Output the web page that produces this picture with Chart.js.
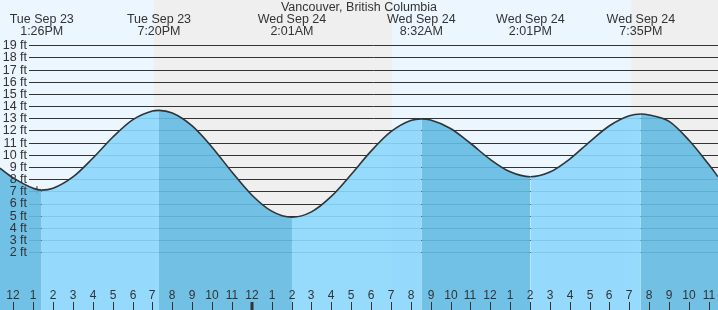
<!DOCTYPE html>
<html>
<head>
<meta charset="utf-8">
<script src="https://cdn.jsdelivr.net/npm/chart.js@4.4.1/dist/chart.umd.min.js"></script>
<style>
  body { margin: 0; background: #fff; }
  #wrap { width: 718px; height: 310px; }
</style>
</head>
<body>
<div id="wrap"><canvas id="tideChart" width="718" height="310"></canvas></div>
<script>
// station + data (hours counted from Tue Sep 23 00:00)
const stationName = 'Vancouver, British Columbia';

const tideHours = [11.33, 12, 13, 13.43, 14, 15, 16, 17, 18, 19, 19.33, 20, 21, 22, 23, 24, 25, 26.02,
  27, 28, 29, 30, 31, 32, 32.53, 33, 34, 35, 36, 37, 38.02, 39, 40, 41, 42, 43, 43.58, 44, 45, 46, 47, 47.46];
const tideFeet = [8.9, 8.1, 7.25, 7.1, 7.25, 8.18, 9.72, 11.44, 12.87, 13.6, 13.65, 13.43, 12.37, 10.63, 8.59, 6.7, 5.37, 4.87,
  5.31, 6.58, 8.38, 10.3, 11.9, 12.82, 12.95, 12.86, 12.16, 10.95, 9.62, 8.6, 8.2, 8.58, 9.65, 11.07, 12.39, 13.21, 13.35, 13.27, 12.75, 11.2, 9.2, 8.2];

// high / low tide labels along the top
const extremeHours = [13.43, 19.33, 26.02, 32.53, 38.02, 43.58];
const extremeDays = ['Tue Sep 23', 'Tue Sep 23', 'Wed Sep 24', 'Wed Sep 24', 'Wed Sep 24', 'Wed Sep 24'];
const extremeTimes = ['1:26PM', '7:20PM', '2:01AM', '8:32AM', '2:01PM', '7:35PM'];

// hour ticks along the bottom, starting at noon Tue
const firstTickHour = 12;
const hourLabels = ['12', '1', '2', '3', '4', '5', '6', '7', '8', '9', '10', '11',
  '12', '1', '2', '3', '4', '5', '6', '7', '8', '9', '10', '11',
  '12', '1', '2', '3', '4', '5', '6', '7', '8', '9', '10', '11'];

const feetTicks = [2, 3, 4, 5, 6, 7, 8, 9, 10, 11, 12, 13, 14, 15, 16, 17, 18, 19];

// daylight periods
const dayStart = [11.33, 31.06];
const dayEnd = [19.08, 43.09];

// current time marker
const nowHour = [13.19];
const nowFeet = [7.1];

const xMin = 11.33, xMax = 47.46;
const yMin = -2.75, yMax = 22.72;

const lightFill = 'rgba(140, 215, 253, 0.9)';
const darkFill = 'rgba(100, 186, 226, 0.9)';
const textColor = '#333';
const fontFamily = '"Liberation Sans", Arial, sans-serif';

const tideDecor = {
    id: 'tideDecor',
    beforeDatasetsDraw(chart) {
        const { ctx, chartArea: a, scales: { x, y } } = chart;
        ctx.save();
        // night background, then daylight bands
        ctx.fillStyle = '#efefef';
        ctx.fillRect(a.left, a.top, a.right - a.left, a.bottom - a.top);
        ctx.fillStyle = '#ecf6ff';
        for (let i = 0; i < dayStart.length; i++) {
            const x0 = x.getPixelForValue(dayStart[i]);
            const x1 = x.getPixelForValue(dayEnd[i]);
            ctx.fillRect(x0, a.top, x1 - x0, a.bottom - a.top);
        }
        // horizontal grid lines
        ctx.strokeStyle = '#333';
        ctx.lineWidth = 1;
        feetTicks.forEach(ft => {
            const py = Math.round(y.getPixelForValue(ft)) + 0.5;
            ctx.beginPath();
            ctx.moveTo(29, py);
            ctx.lineTo(a.right, py);
            ctx.stroke();
        });
        ctx.restore();
    },
    afterDatasetsDraw(chart) {
        const { ctx, chartArea: a, scales: { x, y } } = chart;
        ctx.save();
        ctx.fillStyle = textColor;

        // y labels
        ctx.font = '12.5px ' + fontFamily;
        ctx.textAlign = 'right';
        ctx.textBaseline = 'middle';
        feetTicks.forEach(ft => {
            ctx.fillText(ft + ' ft', 27, y.getPixelForValue(ft) + 0.5);
        });

        // hour labels and ticks
        ctx.font = '12px ' + fontFamily;
        ctx.textAlign = 'center';
        ctx.strokeStyle = '#333';
        hourLabels.forEach((lab, i) => {
            const h = firstTickHour + i;
            const px = Math.round(x.getPixelForValue(h));
            const midnight = h % 24 === 0;
            ctx.fillText(lab, px, 296);
            ctx.lineWidth = midnight ? 3 : 1;
            ctx.beginPath();
            ctx.moveTo(px + (midnight ? 0 : 0.5), 302);
            ctx.lineTo(px + (midnight ? 0 : 0.5), a.bottom);
            ctx.stroke();
        });

        // title and tide times
        ctx.font = '12.5px ' + fontFamily;
        ctx.fillText(stationName, (a.left + a.right) / 2, 8);
        extremeHours.forEach((h, i) => {
            const px = x.getPixelForValue(h);
            ctx.fillText(extremeDays[i], px, 20);
            ctx.fillText(extremeTimes[i], px, 32);
        });
        ctx.restore();
    }
};

function renderTideChart() {
    const ctx = document.getElementById('tideChart').getContext('2d');

    new Chart(ctx, {
        type: 'line',
        data: {
            datasets: [{
                data: tideHours.map((h, i) => ({ x: h, y: tideFeet[i] })),
                borderColor: '#333',
                borderWidth: 1.6,
                pointRadius: 0,
                cubicInterpolationMode: 'monotone',
                fill: 'start',
                backgroundColor: lightFill,
                segment: {
                    // falling tide darker, rising tide lighter
                    backgroundColor: c => c.p1.parsed.y < c.p0.parsed.y ? darkFill : lightFill
                }
            }, {
                data: nowHour.map((h, i) => ({ x: h, y: nowFeet[i] })),
                showLine: false,
                fill: false,
                pointStyle: 'cross',
                pointRadius: 4,
                borderColor: '#333',
                borderWidth: 1
            }]
        },
        options: {
            responsive: false,
            animation: false,
            events: [],
            layout: { padding: 0, autoPadding: false },
            plugins: {
                legend: { display: false },
                tooltip: { enabled: false }
            },
            scales: {
                x: { type: 'linear', min: xMin, max: xMax, display: false },
                y: { min: yMin, max: yMax, display: false }
            }
        },
        plugins: [tideDecor]
    });
}

document.addEventListener('DOMContentLoaded', renderTideChart);
</script>
</body>
</html>
